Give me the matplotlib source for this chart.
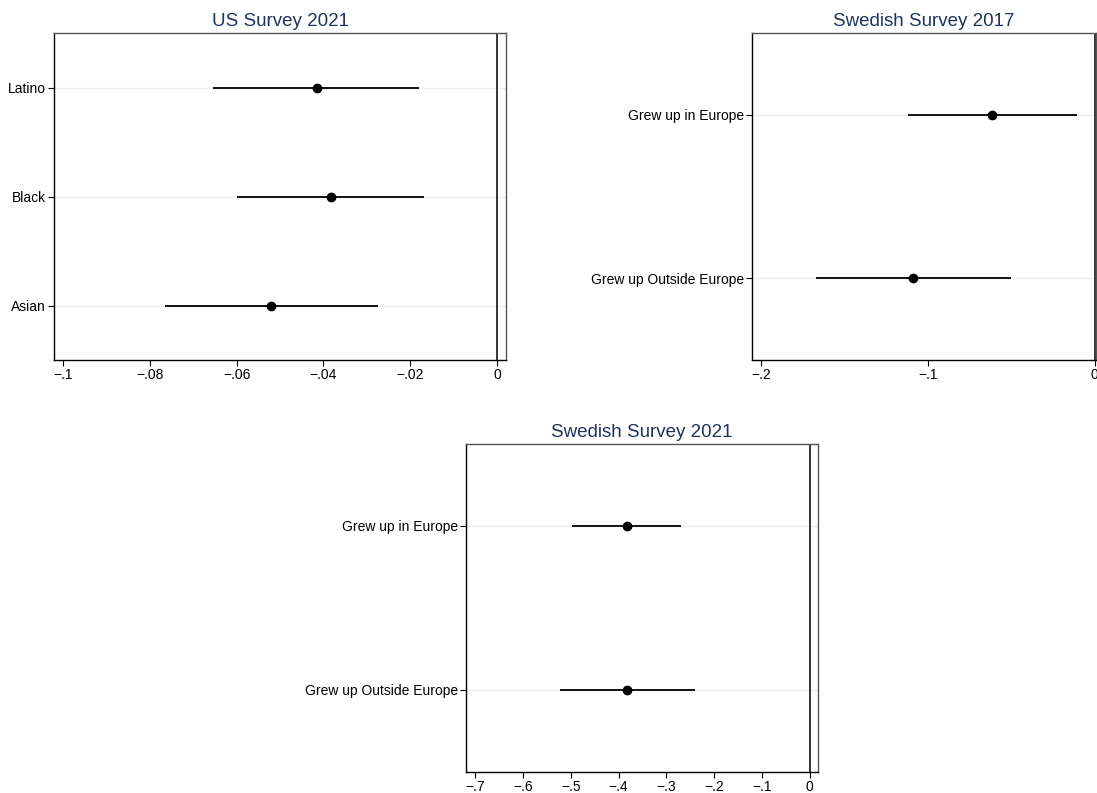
import matplotlib
matplotlib.use('Agg')
import matplotlib.pyplot as plt

plt.rcParams['font.family'] = ['Liberation Sans', 'DejaVu Sans']

# US Survey 2021
us_labels = ['Latino', 'Black', 'Asian']
us_coef = [-0.0415, -0.0383, -0.0520]
us_lo = [-0.0654, -0.0600, -0.0766]
us_hi = [-0.0179, -0.0167, -0.0275]
us_ticks = [-0.1, -0.08, -0.06, -0.04, -0.02, 0]
us_ticklabels = ['\u2212.1', '\u2212.08', '\u2212.06', '\u2212.04', '\u2212.02', '0']

# Swedish Survey 2017
se17_labels = ['Grew up in Europe', 'Grew up Outside Europe']
se17_coef = [-0.0613, -0.1086]
se17_lo = [-0.1118, -0.1669]
se17_hi = [-0.0106, -0.0499]
se17_ticks = [-0.2, -0.1, 0]
se17_ticklabels = ['\u2212.2', '\u2212.1', '0']

# Swedish Survey 2021
se21_labels = ['Grew up in Europe', 'Grew up Outside Europe']
se21_coef = [-0.3827, -0.3820]
se21_lo = [-0.4966, -0.5224]
se21_hi = [-0.2688, -0.2409]
se21_ticks = [-0.7, -0.6, -0.5, -0.4, -0.3, -0.2, -0.1, 0]
se21_ticklabels = ['\u2212.7', '\u2212.6', '\u2212.5', '\u2212.4', '\u2212.3', '\u2212.2', '\u2212.1', '0']

title_col = '#1f335c'
grid_col = '#e8f0f2'


def coefplot(ax, title, labels, coef, lo, hi, ticks, ticklabels, xlim):
    n = len(labels)
    ys = list(range(1, n + 1))
    for y in ys:
        ax.axhline(y, color=grid_col, lw=1.0, zorder=0)
    ax.axvline(0, color='black', lw=1.1, zorder=1)
    ax.hlines(ys, lo, hi, color='black', lw=1.3, zorder=2)
    ax.plot(coef, ys, 'o', color='black', ms=6, zorder=3)
    ax.set_ylim(n + 0.5, 0.5)
    ax.set_xlim(*xlim)
    ax.set_yticks(ys)
    ax.set_yticklabels(labels)
    ax.set_xticks(ticks)
    ax.set_xticklabels(ticklabels)
    ax.tick_params(axis='both', direction='out', length=4, width=0.8,
                   labelsize=10, colors='black', pad=2)
    ax.tick_params(axis='x', pad=1.5)
    ax.set_title(title, color=title_col, fontsize=13.5, pad=5)
    for s in ['left', 'bottom']:
        ax.spines[s].set_color('black')
        ax.spines[s].set_linewidth(1.0)
    for s in ['top', 'right']:
        ax.spines[s].set_color('#555555')
        ax.spines[s].set_linewidth(1.0)


fig = plt.figure(figsize=(10.97, 7.93), dpi=100)
W, H = 1097, 793


def px_axes(l, r, t, b):
    return fig.add_axes([l / W, (H - b) / H, (r - l) / W, (b - t) / H])


ax1 = px_axes(54, 506, 33, 360)
coefplot(ax1, 'US Survey 2021', us_labels, us_coef, us_lo, us_hi,
         us_ticks, us_ticklabels, (-0.1021, 0.0021))

ax2 = px_axes(752, 1096, 33, 360)
coefplot(ax2, 'Swedish Survey 2017', se17_labels, se17_coef, se17_lo, se17_hi,
         se17_ticks, se17_ticklabels, (-0.2053, 0.0008))

ax3 = px_axes(466, 818, 444, 772)
coefplot(ax3, 'Swedish Survey 2021', se21_labels, se21_coef, se21_lo, se21_hi,
         se21_ticks, se21_ticklabels, (-0.7195, 0.0176))

fig.savefig('out.png', dpi=100)
